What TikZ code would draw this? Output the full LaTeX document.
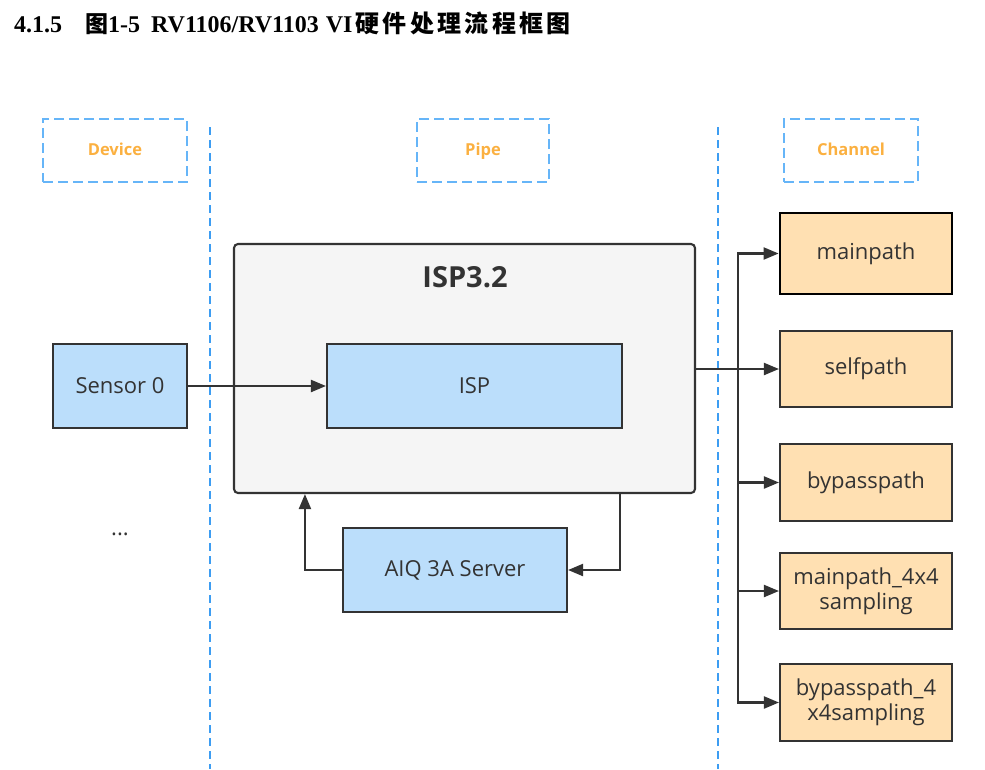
\documentclass[tikz,border=0pt]{standalone}
\usepackage{fontspec}
\setmainfont{Liberation Serif}
\newfontfamily\uifont{Open Sans}
\newfontfamily\cjk{Noto Sans CJK SC}
\usetikzlibrary{arrows.meta}
\definecolor{ink}{HTML}{333333}
\definecolor{bluefill}{HTML}{BBDEFB}
\definecolor{orangefill}{HTML}{FFE0B2}
\definecolor{greyfill}{HTML}{F5F5F5}
\definecolor{dashbox}{HTML}{66B5F8}
\definecolor{dashline}{HTML}{3D9DF2}
\definecolor{labelorange}{HTML}{FBB040}
\newcommand\cjkgap{\hspace{3.3pt}}
\tikzset{
  ui/.style={font=\uifont\fontsize{22}{25}\selectfont, text=ink},
  bluebox/.style={ui, draw=ink, line width=2.1pt, fill=bluefill, inner sep=0pt},
  orangebox/.style={ui, draw=ink, line width=2.1pt, fill=orangefill, inner sep=0pt, minimum width=172pt, align=center},
  groupbox/.style={draw=dashbox, line width=2pt, dash pattern=on 10pt off 5pt, inner sep=0pt,
     font=\uifont\bfseries\fontsize{16.5}{20}\selectfont, text=labelorange, minimum height=63pt,
     text height=12pt, text depth=2pt},
  divider/.style={draw=dashline, line width=2pt, dash pattern=on 8pt off 5pt},
  arr/.style={draw=ink, line width=2.1pt, -{Triangle[length=15pt,width=12pt]}},
}
\begin{document}
\begin{tikzpicture}[x=1pt,y=-1pt]
\useasboundingbox (0,0) rectangle (985,769);
% title
\node[anchor=base west, inner sep=0pt, font=\bfseries\fontsize{24}{26}\selectfont] (title) at (14,32)
  {4.1.5\hspace{23pt}{\cjk\fontsize{23}{26}\selectfont 图}1-5\hspace{11pt}RV1106/RV1103\hspace{7pt}VI\hspace{3pt}{\cjk\fontsize{24}{26}\selectfont 硬\cjkgap 件\cjkgap 处\cjkgap 理\cjkgap 流\cjkgap 程\cjkgap 框\cjkgap 图}};
% group labels
\node[groupbox, minimum width=144pt] (device) at (115,150.5) {Device};
\node[groupbox, minimum width=132pt] (pipe) at (483,150.5) {Pipe};
\node[groupbox, minimum width=134pt] (channel) at (851,150.5) {Channel};
% dividers
\coordinate (d1t) at (210,127); \coordinate (d1b) at (210,769);
\coordinate (d2t) at (718,127); \coordinate (d2b) at (718,769);
\draw[divider] (d1t) -- (d1b);
\draw[divider] (d2t) -- (d2b);
% ISP3.2 container
\node[draw=ink, line width=2.1pt, fill=greyfill, rounded corners=4pt, minimum width=461pt, minimum height=249pt, inner sep=0pt] (isp32) at (464.5,368.5) {};
\node[font=\uifont\bfseries\fontsize{29}{32}\selectfont, text=ink, inner sep=0pt] (isp32label) at (465,277) {ISP3.2};
% boxes
\node[bluebox, minimum width=134pt, minimum height=84pt] (sensor) at (120,386) {Sensor 0};
\node[bluebox, minimum width=295pt, minimum height=84pt] (isp) at (474.5,386) {ISP};
\node[bluebox, minimum width=224pt, minimum height=84pt] (aiq) at (455,570) {AIQ 3A Server};
\node[ui, inner sep=0pt] (dots) at (120,534) {...};
\node[orangebox, draw=black, line width=2.8pt, minimum height=81pt] (mainpath) at (866,253.5) {mainpath};
\node[orangebox, minimum height=76pt] (selfpath) at (866,369) {selfpath};
\node[orangebox, minimum height=77pt] (bypasspath) at (866,482.5) {bypasspath};
\node[orangebox, minimum height=76pt] (main4) at (866,591) {mainpath\_4x4\\sampling};
\node[orangebox, minimum height=77pt] (bypass4) at (866,702.5) {bypasspath\_4\\x4sampling};
% connectors
\draw[arr] (sensor.east) -- (isp.west);
\coordinate (branch) at (738,369);
\draw[arr] (isp32.east |- selfpath.west) -- (selfpath.west);
\draw[arr] (branch) |- (mainpath.west);
\draw[arr] (branch) |- (bypasspath.west);
\draw[arr] (branch) |- (main4.west);
\draw[arr] (branch) |- (bypass4.west);
\draw[arr] (aiq.west) -| ([xshift=72pt]isp32.south west);
\draw[arr] ([xshift=-76pt]isp32.south east) |- (aiq.east);
\end{tikzpicture}
\end{document}
